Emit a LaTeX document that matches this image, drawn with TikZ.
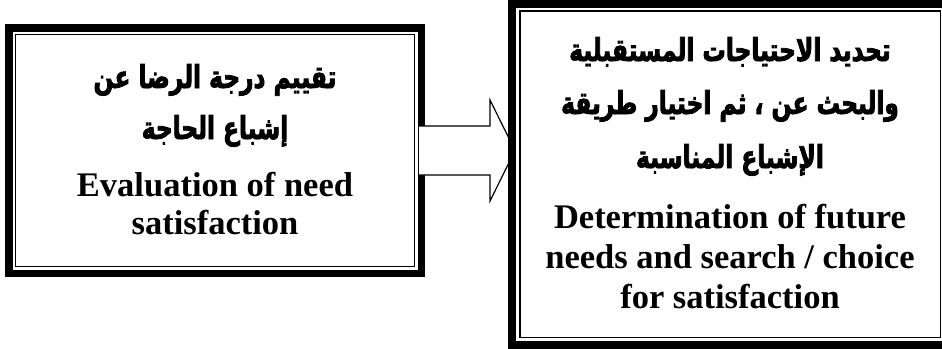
\documentclass[tikz,border=0pt]{standalone}
\usepackage{fontspec}
\setmainfont{Liberation Serif}
\newfontfamily\arabicfont[Script=Arabic,FakeStretch=0.74,BoldFeatures={FakeBold=2.5,FakeStretch=0.74}]{DejaVu Sans}
\TeXXeTstate=1
\usetikzlibrary{calc}
\begin{document}
\begin{tikzpicture}[x=1pt,y=-1pt,
  panel/.style={anchor=north west,inner sep=0pt,outer sep=0pt,minimum width=#1},
  arline/.style={anchor=base,inner sep=0pt,font=\arabicfont\bfseries\fontsize{31.5}{34}\selectfont},
  enline/.style={anchor=base,inner sep=0pt,font=\bfseries\fontsize{34.5}{39}\selectfont},
  thickrule/.style={line width=7.5pt},
  thinrule/.style={line width=1.6pt},
  blockarrow/.style={draw=black,line width=1.2pt,line join=miter}]
\useasboundingbox (0,0) rectangle (942,348);
\begin{scope}
\clip (0,0) rectangle (942,348);

% panels (the right one runs to the page edge)
\node[panel=420pt,minimum height=253pt] (L) at (5,24) {};
\node[panel=434pt,minimum height=348pt] (R) at (508,0) {};

% left panel: thick outer rule, thin inner rule
\draw[thickrule] ($(L.north west)+(3.75,3.75)$) rectangle ($(L.south east)+(-3.75,-3.75)$);
\draw[thinrule] ($(L.north west)+(10.5,10.5)$) rectangle ($(L.south east)+(-10.5,-10.5)$);

% block arrow from the left panel to the right panel
\coordinate (A0) at ($(L.east)+(-6,0)$);
\coordinate (AT) at ($(R.west)+(7,0)$);
\coordinate (Atip) at (AT |- A0);
\fill[white] ($(A0)+(0,-24.5)$) -- ($(Atip)+(-25,-24.5)$) -- ($(Atip)+(-25,-50.5)$) -- (Atip)
  -- ($(Atip)+(-25,50.5)$) -- ($(Atip)+(-25,24.5)$) -- ($(A0)+(0,24.5)$) -- cycle;
\draw[blockarrow] ($(A0)+(0,-24.5)$) -- ($(Atip)+(-25,-24.5)$) -- ($(Atip)+(-25,-50.5)$) -- (Atip)
  -- ($(Atip)+(-25,50.5)$) -- ($(Atip)+(-25,24.5)$) -- ($(A0)+(0,24.5)$);

% right panel rules; the outer rule runs past the right edge
\draw[thickrule] ($(R.north west)+(4,4)$) rectangle ($(R.south east)+(8,-3)$);
\draw[thinrule] ($(R.north west)+(12,11)$) rectangle ($(R.south east)+(-1.5,-10.5)$);
\end{scope}

% left panel text
\node[arline] (L1) at ($(L.north)+(0,64)$) {\beginR تقييم درجة الرضا عن\endR};
\node[arline] (L2) at ($(L.north)+(0,115)$) {\beginR إشباع الحاجة\endR};
\node[enline] (L3) at ($(L.north)+(0,172)$) {Evaluation of need};
\node[enline] (L4) at ($(L.north)+(0,210)$) {satisfaction};

% right panel text
\node[arline] (R1) at (730,61) {\beginR تحديد الاحتياجات المستقبلية\endR};
\node[arline] (R2) at (730,114) {\beginR والبحث عن ، ثم اختيار طريقة\endR};
\node[arline] (R3) at (730,168) {\beginR الإشباع المناسبة\endR};
\node[enline] (R4) at (730,228) {Determination of future};
\node[enline] (R5) at (730,268) {needs and search / choice};
\node[enline] (R6) at (730,308) {for satisfaction};
\end{tikzpicture}
\end{document}
